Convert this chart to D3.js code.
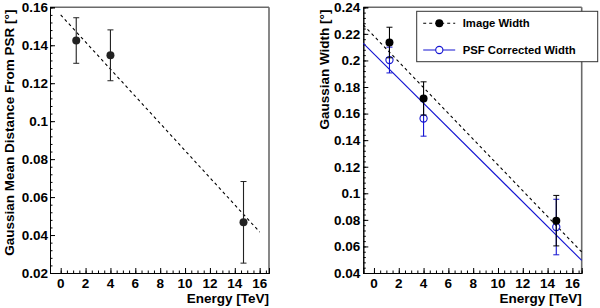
<!DOCTYPE html>
<html>
<head>
<meta charset="utf-8">
<script src="https://cdn.jsdelivr.net/npm/d3@7/dist/d3.min.js"></script>
<style>
	body { margin: 0; background: #fff; }
	svg text { font-family: "Liberation Sans", Arial, sans-serif; font-weight: bold; fill: #000; }
</style>
</head>
<body>
<div id="chart"></div>
<script>
// Energy bins [TeV]
var energy = [1.25, 4.0, 14.7];

// left panel: gaussian mean distance from PSR [deg]
var meanDist = [0.1425, 0.1347, 0.0467];
var meanDistErr = [0.012, 0.0134, 0.0215];
var meanFitX = [0, 16];
var meanFitY = [0.156, 0.0416];

// right panel: gaussian widths [deg]
var imageWidth = [0.2135, 0.1714, 0.0794];
var imageWidthErr = [0.0115, 0.0125, 0.019];
var psfWidth = [0.2003, 0.1563, 0.0746];
var psfWidthErr = [0.0097, 0.0133, 0.0209];
var widthFitX = [-0.86, 16.75];
var imageFitY = [0.2267, 0.0558];
var psfFitY = [0.2129, 0.0495];

var xTicks = [0, 2, 4, 6, 8, 10, 12, 14, 16];
var meanTicks = [0.02, 0.04, 0.06, 0.08, 0.1, 0.12, 0.14, 0.16];
var widthTicks = [0.04, 0.06, 0.08, 0.1, 0.12, 0.14, 0.16, 0.18, 0.2, 0.22, 0.24];
var legendLabels = ['Image Width', 'PSF Corrected Width'];

var blue = '#1414d2';

var svg = d3.select('#chart').append('svg')
	.attr('width', 600)
	.attr('height', 308);

function fmt(v) {
	return String(+v.toFixed(3));
}

function drawPanel(opts) {
	var g = svg.append('g');
	var x = d3.scaleLinear().domain([-0.86, 16.75]).range([opts.left, opts.right]);
	var y = d3.scaleLinear().domain(opts.yDomain).range([273, 7.3]);

	// frame (top/right grey like ROOT)
	g.append('line')
		.attr('x1', opts.left).attr('y1', 7.3)
		.attr('x2', opts.right).attr('y2', 7.3)
		.attr('stroke', '#6a6a6a').attr('stroke-width', 1.6);
	g.append('line')
		.attr('x1', opts.right).attr('y1', 7.3)
		.attr('x2', opts.right).attr('y2', 273)
		.attr('stroke', '#6a6a6a').attr('stroke-width', 1.6);

	// axes with ticks pointing inwards
	var xAxis = d3.axisTop(x).tickValues(d3.range(0, 16.76, 0.5)).tickSize(2.5).tickFormat('');
	var xMajor = d3.axisTop(x).tickValues(xTicks).tickSize(5).tickFormat('');
	var yStep = opts.yTicks[1] - opts.yTicks[0];
	var yMinorVals = d3.range(opts.yDomain[0], opts.yDomain[1] + 1e-9, yStep / 5);
	var yAxis = d3.axisRight(y).tickValues(yMinorVals).tickSize(2.5).tickFormat('');
	var yMajor = d3.axisRight(y).tickValues(opts.yTicks).tickSize(5).tickFormat('');

	[xAxis, xMajor].forEach(function(ax) {
		g.append('g').attr('transform', 'translate(0,273)').call(ax)
			.call(function(s) { s.select('.domain').attr('stroke', '#000'); });
	});
	[yAxis, yMajor].forEach(function(ax) {
		g.append('g').attr('transform', 'translate(' + opts.left + ',0)').call(ax)
			.call(function(s) { s.select('.domain').attr('stroke', '#000'); });
	});
	g.selectAll('.tick line').attr('stroke', '#000');

	// tick labels
	g.selectAll('.xlab').data(xTicks).enter().append('text')
		.attr('x', function(d) { return x(d); })
		.attr('y', 288.3)
		.attr('text-anchor', 'middle')
		.style('font-size', '13.5px')
		.text(function(d) { return d; });
	g.selectAll('.ylab').data(opts.yTicks).enter().append('text')
		.attr('x', opts.left - opts.labelGap)
		.attr('y', function(d) { return y(d); })
		.attr('dy', '0.36em')
		.attr('text-anchor', 'end')
		.style('font-size', '13.5px')
		.text(fmt);

	// titles
	g.append('text')
		.attr('x', opts.right)
		.attr('y', 302.8)
		.attr('text-anchor', 'end')
		.style('font-size', '13.5px')
		.text('Energy [TeV]');
	g.append('text')
		.attr('transform', 'translate(' + opts.titleX + ',9.5) rotate(-90)')
		.attr('text-anchor', 'end')
		.style('font-size', '13.5px')
		.text(opts.yTitle);

	return { g: g, x: x, y: y };
}

function drawFit(p, xs, ys, color, dash) {
	p.g.append('line')
		.attr('x1', p.x(xs[0])).attr('y1', p.y(ys[0]))
		.attr('x2', p.x(xs[1])).attr('y2', p.y(ys[1]))
		.attr('stroke', color)
		.attr('stroke-width', 1.1)
		.attr('stroke-dasharray', dash || null);
}

function drawPoints(p, xs, ys, errs, color, open) {
	var pts = p.g.append('g');
	xs.forEach(function(xv, i) {
		var cx = p.x(xv),
			top = p.y(ys[i] + errs[i]),
			bot = p.y(ys[i] - errs[i]);
		pts.append('line')
			.attr('x1', cx).attr('y1', top).attr('x2', cx).attr('y2', bot)
			.attr('stroke', color).attr('stroke-width', 1.1);
		[top, bot].forEach(function(yy) {
			pts.append('line')
				.attr('x1', cx - 3).attr('y1', yy).attr('x2', cx + 3).attr('y2', yy)
				.attr('stroke', color).attr('stroke-width', 1);
		});
		pts.append('circle')
			.attr('cx', cx).attr('cy', p.y(ys[i]))
			.attr('r', open ? 3.6 : 4)
			.attr('fill', open ? 'none' : color)
			.attr('stroke', color)
			.attr('stroke-width', open ? 1.1 : 0);
	});
}

// Left panel
var left = drawPanel({
	left: 50, right: 269, labelGap: 2,
	yDomain: [0.02, 0.16], yTicks: meanTicks,
	titleX: 14, yTitle: 'Gaussian Mean Distance From PSR [°]'
});
drawFit(left, meanFitX, meanFitY, '#000', '3,3');
drawPoints(left, energy, meanDist, meanDistErr, '#222', false);

// Right panel
var right = drawPanel({
	left: 363.3, right: 581.7, labelGap: 3,
	yDomain: [0.04, 0.24], yTicks: widthTicks,
	titleX: 329, yTitle: 'Gaussian Width [°]'
});
drawFit(right, widthFitX, imageFitY, '#000', '3,3');
drawFit(right, widthFitX, psfFitY, blue);
drawPoints(right, energy, psfWidth, psfWidthErr, blue, true);
drawPoints(right, energy, imageWidth, imageWidthErr, '#000', false);

// Legend
var legend = svg.append('g').attr('transform', 'translate(416.7,11.3)');
legend.append('rect')
	.attr('width', 181).attr('height', 50.4)
	.attr('fill', '#fff')
	.attr('stroke', '#333').attr('stroke-width', 1);
var legendRows = [
	{ label: legendLabels[0], color: '#000', dash: '3,3', open: false },
	{ label: legendLabels[1], color: blue, dash: null, open: true }
];
legendRows.forEach(function(row, i) {
	var yy = 12 + i * 26.7;
	legend.append('line')
		.attr('x1', 6.5).attr('x2', 38.5).attr('y1', yy).attr('y2', yy)
		.attr('stroke', row.color).attr('stroke-width', 1.1)
		.attr('stroke-dasharray', row.dash);
	legend.append('circle')
		.attr('cx', 22.6).attr('cy', yy)
		.attr('r', row.open ? 3.6 : 4)
		.attr('fill', row.open ? '#fff' : row.color)
		.attr('stroke', row.color).attr('stroke-width', row.open ? 1.1 : 0);
	legend.append('text')
		.attr('x', 46).attr('y', yy)
		.attr('dy', '0.36em')
		.style('font-size', '11.3px')
		.text(row.label);
});
</script>
</body>
</html>
